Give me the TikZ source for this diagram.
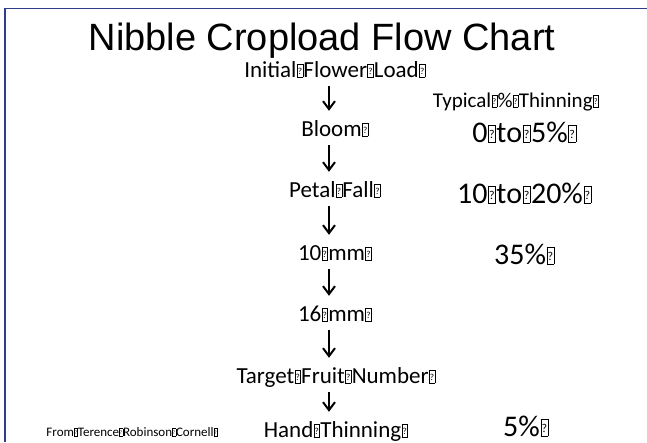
\documentclass[tikz,border=0pt]{standalone}
\usepackage{fontspec}
\usepackage{graphicx}
\usetikzlibrary{arrows.meta}
\newfontfamily\calfont{Carlito}
\newfontfamily\arialfont{Liberation Sans}
\definecolor{framecol}{RGB}{46,62,140}
\newcommand\gb{\makebox[0.3em][c]{\setlength\fboxsep{0pt}\setlength\fboxrule{0.5pt}\fbox{\makebox[0.22em]{\rule{0pt}{0.55em}\raisebox{0.12em}{\scalebox{0.4}{?}}}}}}
\begin{document}
\begin{tikzpicture}[x=1pt,y=-1pt,
  lbl/.style={anchor=base,inner sep=0pt,text height=16pt,text depth=5pt,font=\calfont\fontsize{23}{27}\selectfont},
  pct/.style={anchor=base,inner sep=0pt,font=\calfont\fontsize{30}{34}\selectfont},
  arr/.style={line width=2pt,-{Straight Barb[length=8pt,width=12pt]},shorten <=4pt,shorten >=9pt}]
\useasboundingbox (0,0) rectangle (647,442);
\clip (0,0) rectangle (647,442);
\draw[framecol,line width=1.5pt] (5,442) -- (5,8.5) -- (647,8.5);
\coordinate (ax) at (329,0);
\node[anchor=base,inner sep=0pt,font=\arialfont\fontsize{38}{44}\selectfont] (title) at (322,50) {Nibble Cropload Flow Chart};
\node[lbl] (n1) at (335,77) {Initial\gb Flower\gb Load\gb};
\node[lbl] (n2) at (335,136) {Bloom\gb};
\node[lbl] (n3) at (335,197) {Petal\gb Fall\gb};
\node[lbl] (n4) at (335,260) {10\gb mm\gb};
\node[lbl] (n5) at (335,321) {16\gb mm\gb};
\node[lbl] (n6) at (336,383) {Target\gb Fruit\gb Number\gb};
\node[lbl] (n7) at (336,437) {Hand\gb Thinning\gb};
\foreach \a/\b in {n1/n2,n2/n3,n3/n4,n4/n5,n5/n6,n6/n7}
  \draw[arr] (\a.south -| ax) -- (\b.north -| ax);
\node[anchor=base,inner sep=0pt,font=\calfont\fontsize{21}{25}\selectfont] (head) at (516,107) {Typical\gb\%\gb Thinning\gb};
\node[pct] (p1) at (524.5,142) {0\gb to\gb 5\%\gb};
\node[pct] (p2) at (524.5,203) {10\gb to\gb 20\%\gb};
\node[pct] (p3) at (524.5,264) {35\%\gb};
\node[pct] (p4) at (526,436) {5\%\gb};
\node[anchor=base,inner sep=0pt,font=\calfont\fontsize{13}{15}\selectfont] (src) at (132,436) {From\gb Terence\gb Robinson\gb Cornell\gb};
\end{tikzpicture}
\end{document}
